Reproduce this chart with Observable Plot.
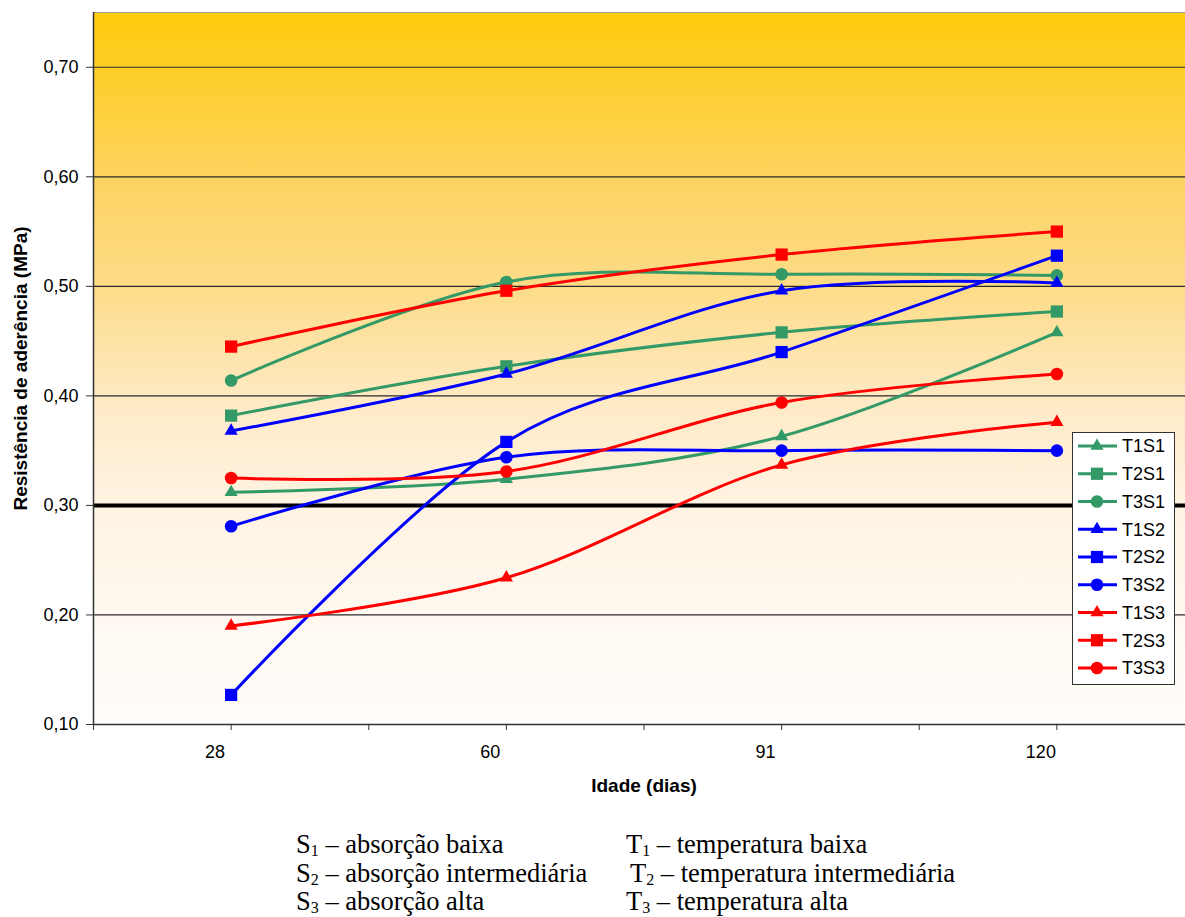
<!DOCTYPE html>
<html>
<head>
<meta charset="utf-8">
<script src="https://cdn.jsdelivr.net/npm/d3@7"></script>
<script src="https://cdn.jsdelivr.net/npm/@observablehq/plot@0.6"></script>
<style>
  html, body { margin: 0; padding: 0; background: #fff; overflow: hidden; }
  #wrap { position: relative; width: 1185px; height: 917px; overflow: hidden; }
  #chart { position: absolute; left: 0; top: 0; width: 1194px; }
  #chart svg { max-width: none !important; }
  #legend { position: absolute; left: 1072px; top: 432px; }
  .cap, .cap span, .cap sub { font-family: "Liberation Serif", "Times New Roman", "DejaVu Serif", serif; }
  .cap { position: absolute; font-size: 26.5px; line-height: 28.5px; white-space: nowrap; color: #000; }
  .cap sub { font-size: 16px; line-height: 0; vertical-align: -3px; }
</style>
</head>
<body>
<div id="wrap">
  <div id="chart"></div>
  <div id="legend"></div>
  <div id="caption"></div>
</div>
<script>
// Ages at test (days)
const ages = ["28", "60", "91", "120"];

// Series: T = curing temperature (1 low, 2 intermediate, 3 high), S = substrate absorption
const seriesNames = ["T1S1", "T2S1", "T3S1", "T1S2", "T2S2", "T3S2", "T1S3", "T2S3", "T3S3"];

// Bond strength (MPa) at 28, 60, 91 and 120 days
const T1S1 = [0.312, 0.324, 0.363, 0.458];
const T2S1 = [0.382, 0.427, 0.458, 0.477];
const T3S1 = [0.414, 0.504, 0.511, 0.510];
const T1S2 = [0.368, 0.420, 0.496, 0.503];
const T2S2 = [0.127, 0.358, 0.440, 0.528];
const T3S2 = [0.281, 0.344, 0.350, 0.350];
const T1S3 = [0.190, 0.234, 0.337, 0.376];
const T2S3 = [0.445, 0.496, 0.529, 0.550];
const T3S3 = [0.325, 0.331, 0.394, 0.420];
const seriesValues = [T1S1, T2S1, T3S1, T1S2, T2S2, T3S2, T1S3, T2S3, T3S3];

// Y axis ticks and the minimum bond strength reference
const yTicks = [0.10, 0.20, 0.30, 0.40, 0.50, 0.60, 0.70];
const limit = [0.30];

// Absorption -> colour, temperature -> marker
const absorption = ["S1", "S2", "S3"];
const absorptionColors = ["#339966", "#0000FF", "#FF0000"];
const temperature = ["T1", "T2", "T3"];
const temperatureSymbols = ["triangle", "square", "circle"];
const markerRadius = { T1: 4.9, T2: 6.9, T3: 6.3 };

// Caption lines
const captionLeft = [["S", "1", " – absorção baixa"], ["S", "2", " – absorção intermediária"], ["S", "3", " – absorção alta"]];
const captionRight = [["T", "1", " – temperatura baixa"], ["T", "2", " – temperatura intermediária"], ["T", "3", " – temperatura alta"]];

const rows = seriesNames.flatMap((name, k) =>
  seriesValues[k].map((v, i) => ({ name, temp: name.slice(0, 2), abs: name.slice(2), i, v }))
);

const decimalComma = (d) => d3.format(".2f")(d).replace(".", ",");

// Each series draws its line and then its markers, so later series sit on top
const seriesMarks = seriesNames.flatMap((name) => {
  const d = rows.filter((r) => r.name === name);
  const temp = d[0].temp;
  return [
    Plot.line(d, { x: "i", y: "v", stroke: "abs", strokeWidth: 3, curve: "cardinal" }),
    Plot.dot(d, { x: "i", y: "v", fill: "abs", symbol: "temp", r: markerRadius[temp] })
  ];
});

const halfTicks = ages.flatMap((_, i) => [i - 0.5, i]).concat([ages.length - 0.5]);

const chart = Plot.plot({
  width: 1194,
  height: 800,
  marginLeft: 93,
  marginRight: 0,
  marginTop: 12,
  marginBottom: 76,
  style: { fontFamily: "'Liberation Sans', Arial, sans-serif", fontSize: "18px", color: "#000", background: "transparent", maxWidth: "none" },
  x: { type: "linear", domain: [-0.5, ages.length - 0.5], label: null },
  y: { domain: [0.10, 0.75], label: null },
  color: { domain: absorption, range: absorptionColors },
  symbol: { domain: temperature, range: temperatureSymbols },
  marks: [
    Plot.frame({ fill: "url(#plotBg)", stroke: "#9a9a9a" }),
    Plot.ruleY(yTicks.filter((t) => t > yTicks[0]), { stroke: "#2a2a2a", strokeWidth: 1.2 }),
    Plot.ruleY(limit, { stroke: "#000", strokeWidth: 4 }),
    Plot.ruleY([yTicks[0]], { stroke: "#333", strokeWidth: 1.5 }),
    Plot.ruleX([-0.5], { stroke: "#333", strokeWidth: 1.5 }),
    Plot.axisY(yTicks, { tickSize: 7, tickPadding: 8, tickFormat: decimalComma, label: null, stroke: "#333" }),
    Plot.axisX(halfTicks, { tickSize: 6, tickFormat: () => "", label: null, stroke: "#333" }),
    Plot.axisX(ages.map((_, i) => i), { tickSize: 0, tickPadding: 21, dx: -16, tickFormat: (i) => ages[i], label: null }),
    Plot.text(["Idade (dias)"], { frameAnchor: "bottom", lineAnchor: "middle", textAnchor: "middle", dy: 61, fontWeight: "bold", fontSize: 19 }),
    Plot.text(["Resistência de aderência (MPa)"], { frameAnchor: "left", textAnchor: "middle", lineAnchor: "middle", rotate: -90, dx: -73, fontWeight: "bold", fontSize: 19 }),
    ...seriesMarks
  ]
});

// Vertical gold-to-white background of the plotting area
const grad = d3.select(chart).insert("defs", ":first-child")
  .append("linearGradient").attr("id", "plotBg")
  .attr("x1", 0).attr("y1", 0).attr("x2", 0).attr("y2", 1);
[[0, "#FFCC0A"], [0.078, "#FECE28"], [0.23, "#FDD35E"], [0.29, "#FDD670"], [0.385, "#FDDC88"],
 [0.55, "#FEEAC6"], [0.69, "#FFF3E2"], [0.85, "#FFF9F1"], [1, "#FFFDFA"]]
  .forEach(([o, c]) => grad.append("stop").attr("offset", o).attr("stop-color", c));

document.getElementById("chart").appendChild(chart);

// Legend: line sample with marker for each series
const colorScale = chart.scale("color");
const symbolTypes = { triangle: d3.symbolTriangle, square: d3.symbolSquare, circle: d3.symbolCircle };
const leg = d3.select("#legend").append("svg").attr("width", 104).attr("height", 254)
  .style("font-family", "'Liberation Sans', Arial, sans-serif").style("font-size", "18px");
leg.append("rect").attr("x", 0.5).attr("y", 0.5).attr("width", 102).attr("height", 252)
  .attr("fill", "#fff").attr("stroke", "#333");
seriesNames.forEach((name, k) => {
  const temp = name.slice(0, 2), abs = name.slice(2);
  const c = colorScale.apply(abs);
  const r = markerRadius[temp];
  const symbolName = temperatureSymbols[temperature.indexOf(temp)];
  const g = leg.append("g").attr("transform", `translate(0,${14 + k * 27.75})`);
  g.append("line").attr("x1", 6).attr("x2", 45).attr("stroke", c).attr("stroke-width", 3);
  g.append("path").attr("transform", "translate(25,0)").attr("fill", c)
    .attr("d", d3.symbol(symbolTypes[symbolName], Math.PI * r * r)());
  g.append("text").attr("x", 50).attr("dy", "0.35em").attr("fill", "#000").text(name);
});

// Caption under the chart
const cap = d3.select("#caption");
captionLeft.forEach(([a, s, b], k) => {
  const div = cap.append("div").attr("class", "cap").style("left", "296px").style("top", `${830 + k * 28.5}px`);
  div.append("span").text(a); div.append("sub").text(s); div.append("span").text(b);
});
captionRight.forEach(([a, s, b], k) => {
  const div = cap.append("div").attr("class", "cap").style("left", `${k === 1 ? 630 : 626}px`).style("top", `${830 + k * 28.5}px`);
  div.append("span").text(a); div.append("sub").text(s); div.append("span").text(b);
});
</script>
</body>
</html>
